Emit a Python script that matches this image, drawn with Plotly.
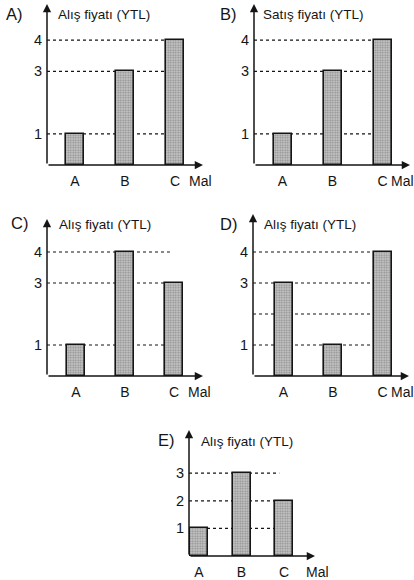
import plotly.graph_objects as go

W, H = 414, 580

categories = ["A", "B", "C"]
unit_label = "Mal"

# values per panel
values_A = [1, 3, 4]
values_B = [1, 3, 4]
values_C = [1, 4, 3]
values_D = [3, 1, 4]
values_E = [1, 3, 2]

levels_A = [1, 3, 4]
levels_B = [1, 3, 4]
levels_C = [1, 3, 4]
levels_D = [1, 2, 3, 4]
levels_E = [1, 2, 3]

ticklabels_A = ["1", "3", "4"]
ticklabels_B = ["1", "3", "4"]
ticklabels_C = ["1", "3", "4"]
ticklabels_D = ["1", "", "3", "4"]
ticklabels_E = ["1", "2", "3"]

titles = ["Alış fiyatı (YTL)", "Satış fiyatı (YTL)", "Alış fiyatı (YTL)",
          "Alış fiyatı (YTL)", "Alış fiyatı (YTL)"]
letters = ["A)", "B)", "C)", "D)", "E)"]

# panel geometry in pixels
geom = [
    dict(ax=47, xe=203, by=165, ty=4, u=31.2, c0=75, s=50, bw=18, lx=4, ly=14, tx=56, tyy=14, mx=12, my=-6),
    dict(ax=254, xe=410, by=165, ty=4, u=31.2, c0=282.5, s=50, bw=18, lx=218, ly=14, tx=261, tyy=14, mx=6, my=-6),
    dict(ax=47, xe=203, by=376, ty=219, u=31.0, c0=76, s=49, bw=18, lx=9, ly=223, tx=57, tyy=224, mx=12, my=-6),
    dict(ax=253, xe=409, by=376, ty=214, u=31.0, c0=283.5, s=49.5, bw=18, lx=218, ly=224, tx=262, tyy=224, mx=6, my=-6),
    dict(ax=189, xe=315, by=556, ty=430, u=27.6, c0=199, s=42.5, bw=18, lx=156, ly=440, tx=199, tyy=441, mx=20, my=-6),
]

panels = [
    (values_A, levels_A, ticklabels_A),
    (values_B, levels_B, ticklabels_B),
    (values_C, levels_C, ticklabels_C),
    (values_D, levels_D, ticklabels_D),
    (values_E, levels_E, ticklabels_E),
]

fig = go.Figure()
shapes = []
annotations = []
font = "Liberation Sans, Arial, sans-serif"
ink = "#151515"

for i, ((vals, levels, tlabels), g) in enumerate(zip(panels, geom)):
    n = "" if i == 0 else str(i + 1)
    xa, ya = "x" + n, "y" + n
    x0 = (g["ax"] - g["c0"]) / g["s"]
    x1 = (g["xe"] - g["c0"]) / g["s"]
    ymax = (g["by"] - g["ty"]) / g["u"]
    bw = g["bw"] / g["s"]

    fig.add_trace(go.Bar(
        x=categories, y=vals, xaxis=xa, yaxis=ya, width=bw,
        marker=dict(color="#b4b4b4",
                    line=dict(color=ink, width=1.6),
                    pattern=dict(shape=".", bgcolor="#c4c4c4", fgcolor="#8a8a8a",
                                 size=2.5, solidity=0.4, fillmode="replace")),
        showlegend=False, hoverinfo="skip"))

    fig.layout["xaxis" + n] = dict(
        domain=[g["ax"] / W, g["xe"] / W], anchor=ya, type="category",
        categoryorder="array", categoryarray=categories,
        range=[x0, x1], showline=False, showgrid=False, zeroline=False,
        ticks="", tickfont=dict(family=font, size=14, color=ink),
        ticklabelstandoff=6, fixedrange=True)
    fig.layout["yaxis" + n] = dict(
        domain=[1 - g["by"] / H, 1 - g["ty"] / H], anchor=xa,
        range=[0, ymax], showline=False, showgrid=False, zeroline=False,
        tickmode="array", tickvals=levels, ticktext=tlabels, ticks="",
        tickfont=dict(family=font, size=14.5, color=ink),
        ticklabelstandoff=4, fixedrange=True)

    # dotted guide lines from the axis to the last bar
    last = len(categories) - 1
    for lv in levels:
        xend = last - bw / 2 if vals[last] >= lv else last - bw / 2 + 0.1
        shapes.append(dict(type="line", xref=xa, yref=ya, x0=x0, x1=xend, y0=lv, y1=lv,
                           line=dict(color=ink, width=1.2, dash="dot"), layer="below"))

    # axis arrows
    annotations.append(dict(xref=xa, yref=ya, axref=xa, ayref=ya, x=x0, y=ymax, ax=x0, ay=0,
                            showarrow=True, arrowhead=2, arrowsize=1.1, arrowwidth=1.5,
                            arrowcolor=ink, text=""))
    annotations.append(dict(xref=xa, yref=ya, axref=xa, ayref=ya, x=x1, y=0, ax=x0, ay=0,
                            showarrow=True, arrowhead=2, arrowsize=1.1, arrowwidth=1.5,
                            arrowcolor=ink, text=""))
    # "Mal" label
    annotations.append(dict(xref=xa, yref=ya, x=last, y=0, yanchor="top", xanchor="left",
                            xshift=g["mx"], yshift=g["my"], text=unit_label, showarrow=False,
                            font=dict(family=font, size=14, color=ink)))
    # letter and title
    annotations.append(dict(xref="paper", yref="paper", x=g["lx"] / W, y=1 - g["ly"] / H,
                            xanchor="left", yanchor="middle", text=letters[i], showarrow=False,
                            font=dict(family=font, size=16.5, color=ink)))
    annotations.append(dict(xref="paper", yref="paper", x=g["tx"] / W, y=1 - g["tyy"] / H,
                            xanchor="left", yanchor="middle", text=titles[i], showarrow=False,
                            font=dict(family=font, size=13.5, color=ink)))

fig.update_layout(width=W, height=H, margin=dict(l=0, r=0, t=0, b=0),
                  paper_bgcolor="white", plot_bgcolor="white",
                  shapes=shapes, annotations=annotations, bargap=0)

fig.write_html("out.html", config={"displayModeBar": False},
               post_script="document.body.style.margin='0';document.body.style.overflow='hidden';")
